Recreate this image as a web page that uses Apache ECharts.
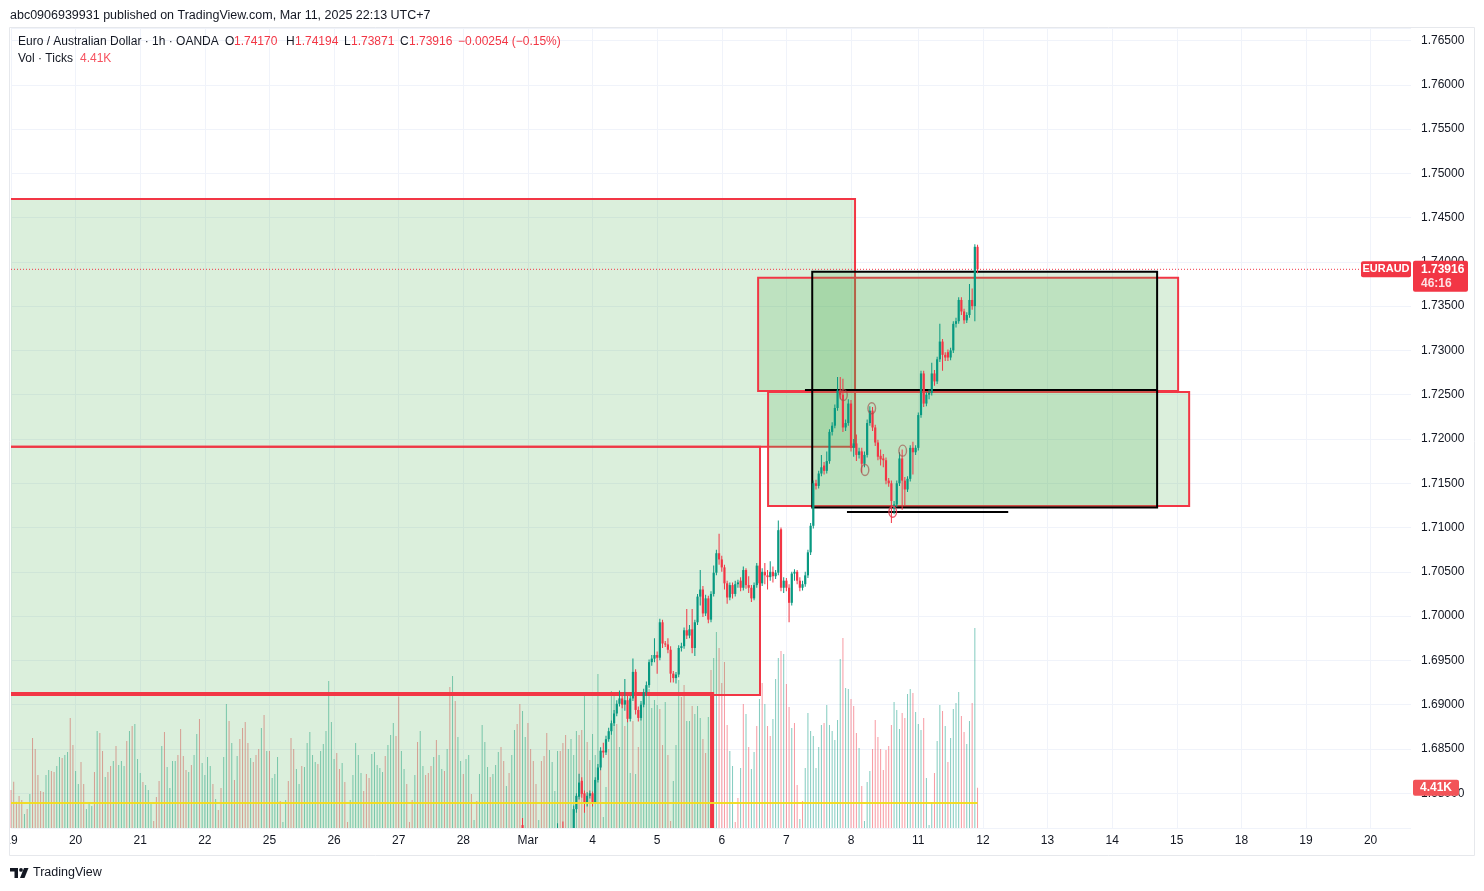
<!DOCTYPE html>
<html>
<head>
<meta charset="utf-8">
<title>EURAUD 1h</title>
<script src="https://cdn.jsdelivr.net/npm/echarts@6.0.0/dist/echarts.min.js"></script>
<style>
html,body{margin:0;padding:0;background:#ffffff;}
#chart{width:1484px;height:891px;}
</style>
</head>
<body>
<div id="chart"></div>
<script>
// ---------------- data ----------------
const publishedText = 'abc0906939931 published on TradingView.com, Mar 11, 2025 22:13 UTC+7';
const instrumentTitle = 'Euro / Australian Dollar · 1h · OANDA';
const symbolName = 'EURAUD';
const barCountdown = '46:16';
const volumeTitle = 'Vol · Ticks';
const brandText = 'TradingView';

const tickDates = ['2025-02-19','2025-02-20','2025-02-21','2025-02-22','2025-02-25','2025-02-26','2025-02-27','2025-02-28','2025-03-01','2025-03-04','2025-03-05','2025-03-06','2025-03-07','2025-03-08','2025-03-11','2025-03-12','2025-03-13','2025-03-14','2025-03-15','2025-03-18','2025-03-19','2025-03-20'];
const tickLabels = ['19','20','21','22','25','26','27','28','Mar','4','5','6','7','8','11','12','13','14','15','18','19','20'];

// candles peeking in at the bottom edge: [time, open, close, low, high]
const earlyCandles = [
  ['2025-02-28 22:00', 1.6764, 1.6755, 1.6745, 1.6772],
  ['2025-03-03 11:00', 1.6750, 1.6758, 1.6745, 1.6766],
  ['2025-03-03 13:00', 1.6758, 1.6750, 1.6744, 1.6768]
];
// hourly candles from candleStart: [open, close, low, high]
const candleStart = '2025-03-03 17:00';
const ohlc = [
[1.6760,1.6782,1.6755,1.6786],[1.6782,1.6797,1.6778,1.6800],[1.6796,1.6812,1.6793,1.6822],[1.6814,1.6799,1.6795,1.6818],
[1.6800,1.6789,1.6778,1.6803],[1.6789,1.6797,1.6785,1.6801],[1.6797,1.6800,1.6794,1.6803],[1.6800,1.6790,1.6785,1.6802],
[1.6790,1.6815,1.6788,1.6818],[1.6815,1.6829,1.6812,1.6833],[1.6829,1.6848,1.6826,1.6852],[1.6848,1.6846,1.6840,1.6857],
[1.6846,1.6861,1.6843,1.6865],[1.6861,1.6870,1.6858,1.6874],[1.6870,1.6879,1.6866,1.6882],[1.6879,1.6890,1.6876,1.6894],
[1.6890,1.6901,1.6887,1.6905],[1.6901,1.6907,1.6898,1.6916],[1.6907,1.6900,1.6896,1.6910],[1.6900,1.6905,1.6893,1.6929],
[1.6905,1.6884,1.6880,1.6910],[1.6884,1.6907,1.6881,1.6910],[1.6907,1.6937,1.6904,1.6952],[1.6937,1.6894,1.6889,1.6940],
[1.6894,1.6885,1.6881,1.6898],[1.6885,1.6900,1.6882,1.6904],[1.6900,1.6914,1.6897,1.6918],[1.6914,1.6922,1.6910,1.6926],
[1.6922,1.6948,1.6919,1.6951],[1.6948,1.6952,1.6944,1.6956],[1.6952,1.6956,1.6948,1.6975],[1.6956,1.6953,1.6935,1.6960],
[1.6953,1.6993,1.6950,1.6997],[1.6993,1.6969,1.6964,1.6996],[1.6969,1.6968,1.6965,1.6972],[1.6968,1.6962,1.6958,1.6975],
[1.6962,1.6935,1.6925,1.6966],[1.6935,1.6930,1.6925,1.6938],[1.6930,1.6934,1.6924,1.6937],[1.6934,1.6964,1.6931,1.6967],
[1.6964,1.6966,1.6960,1.6970],[1.6966,1.6984,1.6963,1.6987],[1.6984,1.6978,1.6974,1.7008],[1.6978,1.6985,1.6975,1.6990],
[1.6985,1.6964,1.6958,1.7008],[1.6964,1.6993,1.6955,1.6996],[1.6993,1.7022,1.6990,1.7025],[1.7022,1.7030,1.7012,1.7052],
[1.7030,1.7003,1.6999,1.7034],[1.7003,1.7020,1.7000,1.7024],[1.7020,1.6996,1.6992,1.7023],[1.6996,1.7025,1.6993,1.7028],
[1.7025,1.7049,1.7022,1.7057],[1.7049,1.7071,1.7046,1.7075],[1.7071,1.7064,1.7058,1.7093],[1.7064,1.7055,1.7050,1.7068],
[1.7055,1.7037,1.7030,1.7058],[1.7037,1.7021,1.7014,1.7040],[1.7021,1.7035,1.7018,1.7038],[1.7035,1.7025,1.7020,1.7038],
[1.7025,1.7036,1.7022,1.7040],[1.7036,1.7038,1.7032,1.7041],[1.7040,1.7032,1.7028,1.7044],[1.7032,1.7052,1.7029,1.7056],
[1.7052,1.7035,1.7031,1.7054],[1.7035,1.7032,1.7026,1.7045],[1.7032,1.7020,1.7016,1.7035],[1.7020,1.7035,1.7018,1.7038],
[1.7035,1.7057,1.7032,1.7060],[1.7057,1.7037,1.7033,1.7060],[1.7037,1.7050,1.7034,1.7054],[1.7050,1.7046,1.7036,1.7060],
[1.7046,1.7044,1.7030,1.7052],[1.7044,1.7050,1.7040,1.7062],[1.7050,1.7045,1.7038,1.7056],[1.7045,1.7049,1.7042,1.7052],
[1.7049,1.7097,1.7046,1.7108],[1.7098,1.7032,1.7028,1.7100],[1.7032,1.7040,1.7026,1.7044],[1.7040,1.7032,1.7028,1.7043],
[1.7032,1.7015,1.6993,1.7036],[1.7015,1.7048,1.7012,1.7050],[1.7048,1.7050,1.7040,1.7053],[1.7050,1.7040,1.7036,1.7052],
[1.7040,1.7032,1.7028,1.7044],[1.7032,1.7036,1.7029,1.7040],[1.7036,1.7046,1.7033,1.7050],[1.7046,1.7072,1.7043,1.7075],
[1.7072,1.7102,1.7069,1.7105],[1.7102,1.7150,1.7099,1.7153],[1.7150,1.7147,1.7143,1.7154],[1.7147,1.7161,1.7144,1.7164],
[1.7161,1.7168,1.7158,1.7182],[1.7170,1.7164,1.7160,1.7174],[1.7164,1.7175,1.7161,1.7186],[1.7175,1.7208,1.7172,1.7211],
[1.7208,1.7215,1.7204,1.7219],[1.7215,1.7235,1.7212,1.7239],[1.7235,1.7255,1.7232,1.7270],[1.7255,1.7250,1.7245,1.7270],
[1.7250,1.7213,1.7208,1.7268],[1.7213,1.7218,1.7209,1.7222],[1.7218,1.7240,1.7215,1.7245],[1.7240,1.7190,1.7186,1.7244],
[1.7190,1.7195,1.7180,1.7200],[1.7195,1.7182,1.7175,1.7205],[1.7182,1.7186,1.7178,1.7190],[1.7186,1.7172,1.7162,1.7190],
[1.7172,1.7182,1.7168,1.7186],[1.7182,1.7218,1.7179,1.7222],[1.7218,1.7232,1.7215,1.7237],[1.7232,1.7213,1.7209,1.7236],
[1.7213,1.7196,1.7192,1.7216],[1.7196,1.7180,1.7176,1.7199],[1.7181,1.7177,1.7170,1.7188],[1.7178,1.7176,1.7168,1.7183],
[1.7176,1.7153,1.7149,1.7179],[1.7153,1.7150,1.7146,1.7156],[1.7150,1.7130,1.7105,1.7153],[1.7122,1.7126,1.7115,1.7130],
[1.7126,1.7150,1.7123,1.7153],[1.7150,1.7178,1.7147,1.7185],[1.7178,1.7153,1.7120,1.7188],[1.7153,1.7143,1.7125,1.7157],
[1.7143,1.7155,1.7140,1.7158],[1.7155,1.7190,1.7152,1.7193],[1.7190,1.7185,1.7160,1.7197],[1.7185,1.7190,1.7182,1.7193],
[1.7190,1.7227,1.7187,1.7230],[1.7227,1.7274,1.7224,1.7277],[1.7274,1.7240,1.7236,1.7277],[1.7240,1.7250,1.7237,1.7253],
[1.7250,1.7252,1.7245,1.7256],[1.7252,1.7274,1.7249,1.7286],[1.7274,1.7265,1.7260,1.7278],[1.7265,1.7290,1.7262,1.7293],
[1.7290,1.7310,1.7287,1.7330],[1.7310,1.7295,1.7277,1.7313],[1.7295,1.7292,1.7288,1.7298],[1.7298,1.7292,1.7288,1.7301],
[1.7292,1.7300,1.7289,1.7303],[1.7300,1.7330,1.7297,1.7333],[1.7330,1.7333,1.7326,1.7337],[1.7333,1.7357,1.7330,1.7360],
[1.7357,1.7344,1.7340,1.7360],[1.7344,1.7334,1.7330,1.7347],[1.7334,1.7340,1.7331,1.7343],[1.7340,1.7357,1.7337,1.7375],
[1.7357,1.7350,1.7346,1.7370],[1.7350,1.7417,1.7333,1.7420],[1.74170,1.73916,1.73871,1.74194]
];

// hourly tick volume (thousands) from volumeStart, and bar direction (1 up, 0 down)
const volumeStart = '2025-02-19 00:00';
const volumes = [
4.16,5.07,2.88,3.50,3.06,1.53,2.08,3.72,9.85,8.64,
5.80,4.05,3.94,5.80,6.35,6.24,6.13,6.78,7.77,7.66,
7.99,8.32,12.04,9.08,6.24,4.81,7.22,4.81,2.08,2.84,
2.41,6.13,10.61,10.39,8.42,5.58,6.13,6.78,7.33,8.97,
6.89,7.33,6.78,9.52,10.61,11.16,11.38,7.55,6.02,5.03,
4.70,4.16,2.63,0.77,3.39,5.14,8.97,10.50,6.67,4.38,
7.33,7.33,7.99,10.83,7.88,6.35,6.13,6.89,7.99,10.28,
11.93,7.11,5.80,7.77,6.78,4.81,3.17,1.97,4.38,7.77,
13.57,11.71,9.30,5.25,7.88,9.74,10.94,11.60,9.30,7.66,
7.22,7.99,8.64,10.94,12.36,8.42,8.42,5.47,5.91,7.77,
2.95,0.66,3.06,5.14,9.85,8.64,6.46,4.81,6.78,6.67,
9.30,10.50,7.99,7.22,7.00,8.42,9.19,10.61,16.08,11.60,
7.55,8.21,6.46,7.11,5.03,0.66,3.06,5.80,9.30,7.99,
6.02,4.05,5.91,5.47,8.10,8.32,6.89,6.56,6.13,7.88,
9.08,10.17,11.49,10.07,14.40,
8.42,6.46,4.81,0.66,3.06,5.80,9.41,10.61,6.78,5.80,
6.02,6.78,7.77,9.63,7.99,6.46,6.24,8.64,15.43,16.63,
13.89,9.96,7.33,5.91,7.55,7.99,3.72,0.88,2.95,5.91,
11.27,9.41,6.67,5.58,5.91,6.89,8.32,8.86,7.33,4.60,
6.02,7.99,10.72,11.38,13.57,12.80,9.96,11.49,8.64,7.33,
4.81,0.88,7.33,7.88,10.39,8.53,7.22,4.05,8.42,8.42,
9.30,10.17,8.64,9.74,7.99,10.61,10.17,10.72,14.66,9.41,
7.44,10.28,7.99,16.85,7.99,1.20,4.49,8.64,14.99,14.44,
11.38,8.86,13.89,11.16,12.47,6.02,11.71,5.91,8.86,13.68,
14.33,14.77,15.21,13.13,14.00,13.46,13.02,9.08,13.79,7.99,
0.77,5.14,9.08,16.19,14.33,15.65,11.71,11.71,13.35,12.47,
13.35,
12.04,9.74,8.21,12.14,17.29,18.60,21.44,19.69,15.86,18.16,
11.27,8.42,6.78,0.66,3.28,6.56,13.57,12.47,8.86,6.46,
8.32,11.16,14.11,15.86,13.57,11.16,10.07,11.93,16.30,18.60,
19.37,19.04,15.75,13.24,10.94,11.49,4.70,0.98,2.95,6.56,
12.58,10.61,10.07,6.56,8.86,11.27,11.49,13.46,11.27,10.61,
9.63,11.82,18.49,20.79,15.32,15.21,14.11,13.35,10.39,8.75,
4.60,0.77,5.03,6.24,8.64,11.82,9.96,8.64,6.35,8.53,
8.97,11.27,13.79,12.91,10.83,12.58,12.04,14.66,15.21,14.77,
12.69,11.38,10.72,12.04,5.47,0.33,2.84,6.02,9.52,13.46,
12.80,11.16,7.22,9.85,13.02,13.68,14.88,12.25,10.50,9.19,
11.71,13.68,21.88,4.41
];
const volumeUp = [
0,0,0,0,0,1,0,1,0,0, 0,0,0,1,1,0,0,1,1,0, 1,1,0,0,1,1,0,0,1,1, 1,0,1,0,0,1,0,0,1,0,
1,1,1,0,1,0,1,1,1,0, 1,1,1,0,0,0,1,0,1,1, 1,1,0,0,0,0,1,0,1,1, 0,1,1,1,1,0,1,0,0,1,
1,0,1,0,1,0,0,0,0,1, 0,0,0,1,0,1,0,1,1,1, 0,1,1,0,0,0,1,1,0,1, 1,1,1,1,0,1,1,1,1,1,
1,0,0,1,0,0,1,1,1,1, 1,0,0,0,1,1,1,1,1,0, 1,1,1,0,0,
1,1,0,0,0,1,0,1,1,0, 0,0,1,0,1,1,0,1,0,1, 0,1,1,0,1,1,0,1,0,1, 1,1,1,0,1,1,1,0,0,1,
0,1,1,0,0,1,1,0,0,0, 0,1,0,0,0,1,1,1,1,0, 0,0,1,1,1,1,0,0,1,0, 0,1,1,1,0,1,1,0,1,1,
0,1,1,0,1,1,0,1,0,1, 1,1,1,1,1,1,0,0,1,0, 0,1,1,1,0,0,1,1,0,1, 1,
1,0,0,1,0,1,1,0,0,0, 0,1,1,0,0,1,0,1,0,1, 1,0,1,0,1,0,0,1,1,1, 0,1,0,0,1,0,0,1,0,1,
1,1,1,1,1,1,0,1,1,1, 1,1,1,0,1,1,0,0,0,1, 0,1,1,1,0,0,0,0,0,0, 0,0,1,1,1,0,0,1,1,0,
1,1,1,0,1,1,1,0,1,1, 0,1,0,1,1,1,1,0,0,1, 1,0,1,0
];

// drawn zones: [from bar, to bar, top price, bottom price]  (bar = hourly bar number from volumeStart)
const zones = [
  [-1, 313.5, 1.74710, 1.71913],
  [-1, 278.2, 1.71913, 1.69110],
  [-1, 260.4, 1.69121, 1.65000],
  [277.5, 433.5, 1.73822, 1.72542],
  [281.2, 437.6, 1.72531, 1.71244],
  [297.6, 425.7, 1.73889, 1.71225]
];
const zoneKinds = ['red', 'red', 'redThick', 'red', 'red', 'black'];
// drawn horizontal segments: [from bar, to bar, price]
const levelSegments = [
  [294.9, 425.7, 1.72554],
  [310.5, 370.4, 1.71176]
];
// hand-drawn circles: [bar, price]
const circleMarks = [[309.2, 1.72497], [317.2, 1.71650], [319.7, 1.72347], [327.5, 1.71179], [331.2, 1.71868]];
const circleKinds = ['brown', 'brown', 'brown', 'red', 'brown'];
const volumeLevel = 2.74;

// ---------------- categories (hourly, forex session, UTC+7) ----------------
function pad(n) { return n < 10 ? '0' + n : '' + n; }
function buildHours(count) {
  const out = [];
  let t = Date.UTC(2025, 1, 19, 0);
  const dstStart = Date.UTC(2025, 2, 9);
  while (out.length < count) {
    const d = new Date(t);
    const dow = d.getUTCDay(), h = d.getUTCHours();
    const openHour = t >= dstStart ? 4 : 5;
    let open = true;
    if (dow === 6 && h >= openHour) open = false;
    if (dow === 0) open = false;
    if (dow === 1 && h < openHour) open = false;
    if (open) out.push(d.getUTCFullYear() + '-' + pad(d.getUTCMonth() + 1) + '-' + pad(d.getUTCDate()) + ' ' + pad(h) + ':00');
    t += 3600000;
  }
  return out;
}
const hours = buildHours(521);
const idxOf = {};
hours.forEach((c, i) => { idxOf[c] = i; });
const labelOf = {};
tickDates.forEach((d, k) => { labelOf[d + ' 00:00'] = tickLabels[k]; });
const showTick = (i, v) => labelOf[v] !== undefined;

// ---------------- series data ----------------
const UP = '#089981', DOWN = '#f23645';
const candleData = [];
earlyCandles.forEach(c => candleData.push([idxOf[c[0]], c[1], c[2], c[3], c[4]]));
const c0 = idxOf[candleStart];
ohlc.forEach((c, k) => candleData.push([c0 + k, c[0], c[1], c[2], c[3]]));

const v0 = idxOf[volumeStart];
const volData = volumes.map((v, k) => ({
  value: [v0 + k, v],
  itemStyle: { color: volumeUp[k] ? 'rgba(8,153,129,0.5)' : 'rgba(242,54,69,0.5)' }
}));

const last = ohlc[ohlc.length - 1];
const prev = ohlc[ohlc.length - 2];
const lastClose = last[1];
const change = last[1] - prev[1];
const changePct = change / prev[1] * 100;
const lastVol = volumes[volumes.length - 1];
const lastBar = v0 + volumes.length - 1;

const FONT = '"Liberation Sans", Arial, sans-serif';
const TEXT = '#131722';

function xAt(api, f) {
  const i0 = Math.floor(f);
  const a = api.coord([i0, 1.7])[0];
  const b = api.coord([i0 + 1, 1.7])[0];
  return a + (f - i0) * (b - a);
}
function yAt(api, p) { return api.coord([0, p])[1]; }

const zoneFill = 'rgba(76,175,80,0.2)';
const zoneStroke = { red: ['#f23645', 2], redThick: ['#f23645', 4], black: ['#000000', 2] };

const chart = echarts.init(document.getElementById('chart'), null, { renderer: 'canvas' });

const option = {
  animation: false,
  backgroundColor: '#ffffff',
  textStyle: { fontFamily: FONT },
  grid: { left: 11, right: 73, top: 28, bottom: 63, outerBoundsMode: 'none' },
  xAxis: {
    type: 'category',
    data: hours,
    boundaryGap: false,
    axisLine: { show: false },
    axisTick: { show: false, interval: showTick },
    axisLabel: {
      interval: showTick,
      formatter: v => labelOf[v] || '',
      color: TEXT, fontSize: 12, fontFamily: FONT, margin: 7
    },
    splitLine: { show: true, interval: showTick, lineStyle: { color: '#f0f3fa', width: 1 } }
  },
  yAxis: [
    {
      type: 'value',
      position: 'right',
      min: 1.67607,
      max: 1.76641,
      splitNumber: 18,
      scale: true,
      axisLine: { show: false },
      axisTick: { show: false },
      axisLabel: {
        color: TEXT, fontSize: 12, fontFamily: FONT, margin: 10,
        showMinLabel: false, showMaxLabel: false,
        formatter: v => v.toFixed(5)
      },
      splitLine: { show: true, lineStyle: { color: '#f0f3fa', width: 1 } }
    },
    {
      type: 'value',
      min: 0,
      max: 87.55,
      show: false,
      splitLine: { show: false }
    }
  ],
  series: [
    {
      name: 'Volume',
      type: 'bar',
      xAxisIndex: 0,
      yAxisIndex: 1,
      data: volData,
      barWidth: 1,
      z: 1,
      silent: true,
      markLine: {
        silent: true,
        symbol: 'none',
        label: { show: false },
        lineStyle: { color: '#f2dc1c', width: 2, type: 'solid', opacity: 0.95 },
        data: [[{ coord: [0, volumeLevel] }, { coord: [lastBar, volumeLevel] }]]
      }
    },
    {
      name: 'Zones',
      type: 'custom',
      xAxisIndex: 0,
      yAxisIndex: 0,
      clip: true,
      z: 2,
      silent: true,
      data: zones.map((z, k) => [k, 1.7]),
      renderItem: function (params, api) {
        const z = zones[params.dataIndex];
        const x1 = xAt(api, z[0]), x2 = xAt(api, z[1]);
        const y1 = yAt(api, z[2]), y2 = yAt(api, z[3]);
        const st = zoneStroke[zoneKinds[params.dataIndex]];
        return {
          type: 'rect',
          shape: { x: Math.min(x1, x2), y: Math.min(y1, y2), width: Math.abs(x2 - x1), height: Math.abs(y2 - y1) },
          style: { fill: zoneFill, stroke: st[0], lineWidth: st[1] }
        };
      }
    },
    {
      name: 'Levels',
      type: 'custom',
      xAxisIndex: 0,
      yAxisIndex: 0,
      clip: true,
      z: 3,
      silent: true,
      data: levelSegments.map((s, k) => [k, 1.7]).concat([[levelSegments.length, 1.7]]),
      renderItem: function (params, api) {
        if (params.dataIndex === levelSegments.length) {
          const yp = yAt(api, lastClose);
          const cs = params.coordSys;
          return {
            type: 'line',
            shape: { x1: cs.x, y1: yp, x2: cs.x + cs.width, y2: yp },
            style: { stroke: '#f23645', lineWidth: 1, lineDash: [1, 2] }
          };
        }
        const s = levelSegments[params.dataIndex];
        const y = yAt(api, s[2]);
        return {
          type: 'line',
          shape: { x1: xAt(api, s[0]), y1: y, x2: xAt(api, s[1]), y2: y },
          style: { stroke: '#000000', lineWidth: 2 }
        };
      }
    },
    {
      name: symbolName,
      type: 'custom',
      xAxisIndex: 0,
      yAxisIndex: 0,
      z: 4,
      clip: true,
      silent: true,
      data: candleData,
      encode: { x: 0, y: [1, 2, 3, 4] },
      renderItem: function (params, api) {
        const i = api.value(0), o = api.value(1), c = api.value(2), l = api.value(3), h = api.value(4);
        const po = api.coord([i, o]), pc = api.coord([i, c]);
        const yl = api.coord([i, l])[1], yh = api.coord([i, h])[1];
        const x = po[0];
        const color = c >= o ? UP : DOWN;
        const top = Math.min(po[1], pc[1]);
        const bh = Math.max(1, Math.abs(pc[1] - po[1]));
        return {
          type: 'group',
          children: [
            { type: 'rect', shape: { x: x - 0.5, y: yh, width: 1, height: Math.max(1, yl - yh) }, style: { fill: color } },
            { type: 'rect', shape: { x: x - 1.1, y: top, width: 2.2, height: bh }, style: { fill: color } }
          ]
        };
      }
    },
    {
      name: 'Circles',
      type: 'custom',
      xAxisIndex: 0,
      yAxisIndex: 0,
      clip: true,
      z: 5,
      silent: true,
      data: circleMarks.map((c, k) => [k, 1.7]),
      renderItem: function (params, api) {
        const c = circleMarks[params.dataIndex];
        const red = circleKinds[params.dataIndex] === 'red';
        return {
          type: 'ellipse',
          shape: { cx: xAt(api, c[0]), cy: yAt(api, c[1]), rx: 3.8, ry: 5.5 },
          style: { fill: 'none', stroke: red ? 'rgba(232,60,80,0.85)' : 'rgba(160,80,75,0.65)', lineWidth: 1.4 }
        };
      }
    }
  ]
};
chart.setOption(option);

// ---------- overlay texts & price tags ----------
const yLast = chart.convertToPixel({ yAxisIndex: 0 }, lastClose);
const yVol = chart.convertToPixel({ yAxisIndex: 1 }, lastVol);
const RED = '#f23645';
const fmt5 = v => v.toFixed(5);

function txt(text, x, y, fill, extra) {
  return {
    type: 'text', z: 100,
    style: Object.assign({ text: text, x: x, y: y, fill: fill, fontSize: 12, fontFamily: FONT, verticalAlign: 'middle', align: 'left' }, extra || {})
  };
}

const graphics = [
  { type: 'rect', z: 90, shape: { x: 9.5, y: 27.5, width: 1465, height: 828 }, style: { fill: 'none', stroke: '#e6e8ec', lineWidth: 1 } },
  { type: 'rect', z: 95, shape: { x: 0, y: 830, width: 9, height: 22 }, style: { fill: '#ffffff' } },
  txt(publishedText, 10, 15.5, TEXT, { fontSize: 12.5 }),
  txt(instrumentTitle, 18, 42, TEXT),
  txt('O', 225, 42, TEXT), txt(fmt5(last[0]), 234, 42, RED),
  txt('H', 286, 42, TEXT), txt(fmt5(last[3]), 295, 42, RED),
  txt('L', 344, 42, TEXT), txt(fmt5(last[2]), 351, 42, RED),
  txt('C', 400, 42, TEXT), txt(fmt5(lastClose), 409, 42, RED),
  txt('\u2212' + Math.abs(change).toFixed(5) + ' (\u2212' + Math.abs(changePct).toFixed(2) + '%)', 458, 42, RED),
  txt(volumeTitle, 18, 59, TEXT),
  txt(lastVol.toFixed(2) + 'K', 80, 59, '#f7525f'),
  { type: 'rect', z: 100, shape: { x: 1361, y: yLast - 8, width: 50, height: 16, r: 2 }, style: { fill: RED } },
  txt(symbolName, 1386, yLast, '#ffffff', { align: 'center', fontWeight: 'bold', fontSize: 11 }),
  { type: 'rect', z: 100, shape: { x: 1413, y: yLast - 8.5, width: 55, height: 31, r: 2 }, style: { fill: RED } },
  txt(fmt5(lastClose), 1421, yLast, '#ffffff', { fontWeight: 'bold' }),
  txt(barCountdown, 1421, yLast + 14, 'rgba(255,255,255,0.85)', { fontWeight: 'bold' }),
  { type: 'rect', z: 100, shape: { x: 1413, y: yVol - 8, width: 46, height: 16, r: 2 }, style: { fill: '#f25358' } },
  txt(lastVol.toFixed(2) + 'K', 1436, yVol, '#ffffff', { align: 'center', fontWeight: 'bold' }),
  { type: 'polygon', z: 100, shape: { points: [[10, 868], [18, 868], [18, 878], [14.5, 878], [14.5, 871.5], [10, 871.5]] }, style: { fill: TEXT } },
  { type: 'circle', z: 100, shape: { cx: 21, cy: 869.9, r: 1.9 }, style: { fill: TEXT } },
  { type: 'polygon', z: 100, shape: { points: [[24, 868], [28.5, 868], [24.5, 878], [20, 878]] }, style: { fill: TEXT } },
  txt(brandText, 33, 873, TEXT, { fontSize: 12.5 })
];
chart.setOption({ graphic: graphics });
</script>
</body>
</html>
